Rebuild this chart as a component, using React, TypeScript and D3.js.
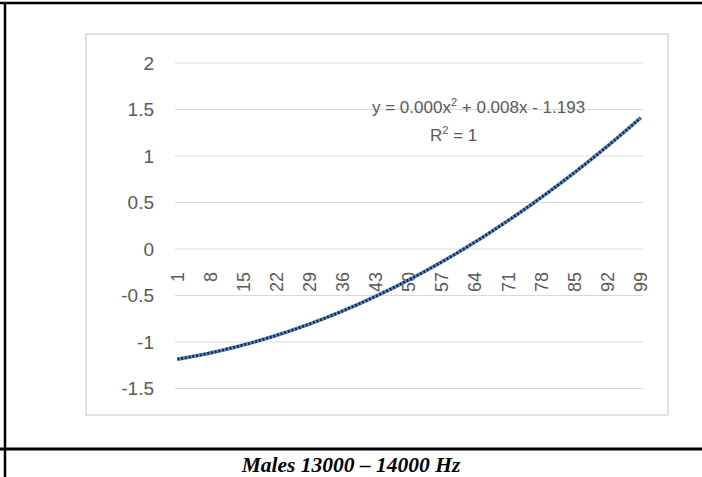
import React from "react";
import * as d3 from "d3";

const categories: number[] = Array.from({ length: 99 }, (_, i) => i + 1);
const values: number[] = [
  -1.185, -1.176, -1.167, -1.158, -1.148, -1.138, -1.128, -1.117, -1.106, -1.095,
  -1.083, -1.070, -1.058, -1.045, -1.031, -1.018, -1.004, -0.989, -0.974, -0.959,
  -0.944, -0.928, -0.911, -0.895, -0.878, -0.860, -0.842, -0.824, -0.806, -0.787,
  -0.767, -0.748, -0.728, -0.707, -0.687, -0.666, -0.644, -0.622, -0.600, -0.577,
  -0.554, -0.531, -0.507, -0.483, -0.459, -0.434, -0.409, -0.383, -0.357, -0.331,
  -0.304, -0.277, -0.250, -0.222, -0.194, -0.166, -0.137, -0.107, -0.078, -0.048,
  -0.017, 0.013, 0.045, 0.076, 0.108, 0.140, 0.173, 0.206, 0.239, 0.273,
  0.307, 0.341, 0.376, 0.411, 0.447, 0.482, 0.519, 0.555, 0.592, 0.630,
  0.668, 0.706, 0.744, 0.783, 0.822, 0.862, 0.902, 0.942, 0.983, 1.024,
  1.065, 1.107, 1.149, 1.192, 1.235, 1.278, 1.322, 1.366, 1.410,
];
const yTicks: number[] = [2, 1.5, 1, 0.5, 0, -0.5, -1, -1.5];
const xTickLabels: number[] = [1, 8, 15, 22, 29, 36, 43, 50, 57, 64, 71, 78, 85, 92, 99];
const caption = "Males 13000 – 14000 Hz";
const equationParts = ["y = 0.000x", "2", " + 0.008x - 1.193"];
const rSquaredParts = ["R", "2", " = 1"];

export default function App() {
  const W = 702;
  const H = 477;
  const x = d3.scaleBand<number>().domain(categories).range([175, 643]).padding(0);
  const cx = (c: number) => (x(c) ?? 0) + x.bandwidth() / 2;
  const y = d3.scaleLinear().domain([-1.5, 2]).range([388.5, 63]);
  const pts: [number, number][] = categories.map((c, i) => [cx(c), y(values[i])]);
  const line = d3.line().curve(d3.curveMonotoneX);
  const path = line(pts) ?? "";
  const font = "'Liberation Sans', Arial, sans-serif";
  const txt = "#595959";

  return (
    <div style={{ position: "fixed", left: 0, top: 0 }}>
      <svg width={W} height={H} style={{ display: "block", background: "#fff" }}>
        {/* table borders */}
        <line x1={0} x2={W} y1={3} y2={3} stroke="#000" strokeWidth={2.5} />
        <line x1={5} x2={5} y1={2} y2={H} stroke="#000" strokeWidth={2.5} />
        <line x1={0} x2={W} y1={449} y2={449} stroke="#000" strokeWidth={3} />
        {/* chart box */}
        <rect x={86} y={34} width={582} height={381} fill="#fff" stroke="#d9d9d9" strokeWidth={1.5} />
        {/* gridlines */}
        {yTicks.map((t) => (
          <line key={t} x1={175} x2={643} y1={y(t)} y2={y(t)} stroke="#d9d9d9" strokeWidth={1} />
        ))}
        {/* y labels */}
        {yTicks.map((t) => (
          <text key={"l" + t} x={154} y={y(t)} dy="0.35em" textAnchor="end" fontFamily={font} fontSize={19} fill={txt}>
            {String(t)}
          </text>
        ))}
        {/* x labels */}
        {xTickLabels.map((c) => (
          <text
            key={"x" + c}
            transform={`translate(${cx(c)},272) rotate(-90)`}
            dy="0.35em"
            textAnchor="end"
            fontFamily={font}
            fontSize={18}
            fill={txt}
          >
            {String(c)}
          </text>
        ))}
        {/* series line */}
        <path d={path} fill="none" stroke="#5b8fd0" strokeWidth={3.6} strokeLinejoin="round" />
        {/* trendline */}
        <path d={path} fill="none" stroke="#1c2741" strokeWidth={2.8} strokeDasharray="2 1.8" />
        {/* equation */}
        <text x={372} y={113} fontFamily={font} fontSize={17} fill={txt}>
          {equationParts[0]}
          <tspan fontSize={11} dy={-7}>{equationParts[1]}</tspan>
          <tspan dy={7}>{equationParts[2]}</tspan>
        </text>
        <text x={430} y={141} fontFamily={font} fontSize={17} fill={txt}>
          {rSquaredParts[0]}
          <tspan fontSize={11} dy={-7}>{rSquaredParts[1]}</tspan>
          <tspan dy={7}>{rSquaredParts[2]}</tspan>
        </text>
        {/* caption */}
        <text
          x={351}
          y={472}
          textAnchor="middle"
          fontFamily="'Liberation Serif', 'Times New Roman', serif"
          fontWeight="bold"
          fontStyle="italic"
          fontSize={21.5}
          fill="#000"
        >
          {caption}
        </text>
      </svg>
    </div>
  );
}
